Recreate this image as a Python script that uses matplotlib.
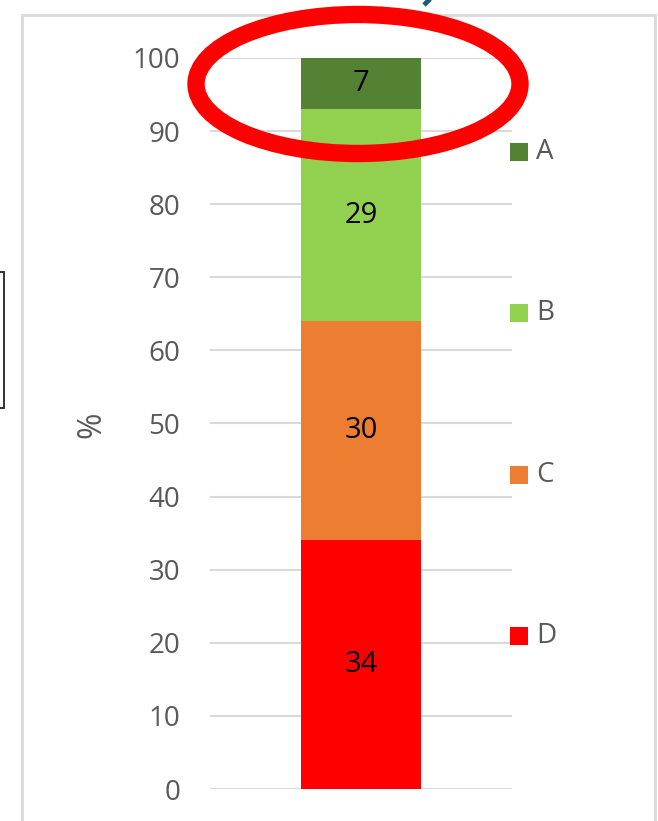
import matplotlib
matplotlib.use("Agg")
from matplotlib import pyplot as plt
from matplotlib.patches import Ellipse, Rectangle
from matplotlib.lines import Line2D

plt.rcParams['font.family'] = ['Open Sans', 'DejaVu Sans']

categories = ["D", "C", "B", "A"]
values = [34, 30, 29, 7]
colors = ["#ff0000", "#ed7d31", "#92d050", "#548235"]
yticks = [0, 10, 20, 30, 40, 50, 60, 70, 80, 90, 100]

W, H = 658, 821
fig = plt.figure(figsize=(W / 100, H / 100), dpi=100)
fig.patch.set_facecolor("white")

def fx(px):
    return px / W

def fy(py):
    return 1 - py / H

# outer chart frame
fig.patches.append(Rectangle((fx(22), fy(830)), fx(655) - fx(22), fy(15) - fy(830),
                             transform=fig.transFigure, fill=False,
                             edgecolor="#d9d9d9", linewidth=2))
# partial box on the left
fig.patches.append(Rectangle((fx(-5), fy(408)), fx(8.5), fy(272) - fy(408),
                             transform=fig.transFigure, fill=False,
                             edgecolor="#222222", linewidth=1.3))

ax = fig.add_axes([fx(210), fy(789), fx(512) - fx(210), fy(58) - fy(789)])
bottom = 0
for cat, v, c in zip(categories, values, colors):
    ax.bar(0, v, width=0.6, bottom=bottom, color=c, zorder=3, label=cat)
    ax.text(0, bottom + v / 2, str(v), ha="center", va="center",
            fontsize=21, color="black", zorder=4)
    bottom += v

ax.set_xlim(-0.75, 0.75)
ax.set_ylim(0, 100)
ax.set_yticks(yticks)
ax.set_xticks([])
ax.yaxis.grid(True, color="#d9d9d9", linewidth=1.5, zorder=0)
ax.tick_params(axis="y", length=0, pad=21.5, labelsize=20, labelcolor="#595959")
for s in ax.spines.values():
    s.set_visible(False)
ax.patch.set_alpha(0)

fig.text(fx(92), fy(425), "%", rotation=90, ha="center", va="center",
         fontsize=23, color="#595959")

# legend, top to bottom A, B, C, D
leg_y = [152, 313, 475, 636]
for cat, c, py in zip(categories[::-1], colors[::-1], leg_y):
    fig.patches.append(Rectangle((fx(510), fy(py + 9)), fx(18), fy(py - 9) - fy(py + 9),
                                 transform=fig.transFigure, facecolor=c, edgecolor="none"))
    fig.text(fx(536), fy(py), cat, ha="left", va="center", fontsize=20, color="#595959")

# red highlight ellipse
fig.patches.append(Ellipse((fx(358), fy(84)), fx(324), fy(0) - fy(139),
                           transform=fig.transFigure, fill=False,
                           edgecolor="#ff0000", linewidth=12.5))

# clipped blue mark at top
fig.lines.append(Line2D([fx(424), fx(430)], [fy(5), fy(-1)], transform=fig.transFigure,
                        color="#1f5a7e", linewidth=3.5, solid_capstyle="butt"))

fig.savefig("out.png", dpi=100)
